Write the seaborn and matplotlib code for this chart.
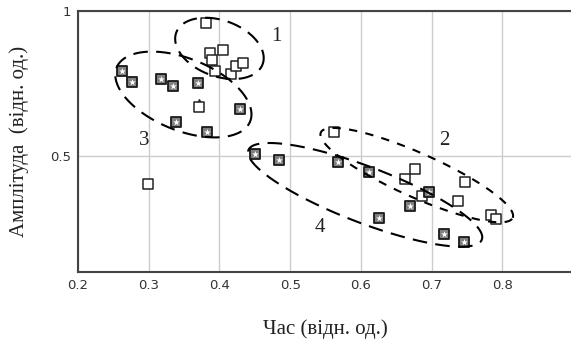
import numpy as np
import pandas as pd
import matplotlib
matplotlib.use("Agg")
import matplotlib.pyplot as plt
import seaborn as sns

sns.set_style("white")
plt.rcParams["font.family"] = ["DejaVu Sans"]

# ---- data ----
# hollow squares (groups 1, 2 and one outlier)
open_x = [0.381, 0.386, 0.390, 0.405, 0.394, 0.416, 0.424, 0.434,
          0.562, 0.676, 0.662, 0.687, 0.747, 0.737, 0.784, 0.791,
          0.299, 0.371]
open_y = [0.958, 0.854, 0.831, 0.866, 0.793, 0.782, 0.811, 0.820,
          0.584, 0.455, 0.422, 0.362, 0.409, 0.345, 0.297, 0.283,
          0.403, 0.668]
# hatched squares (groups 3 and 4)
hatch_x = [0.262, 0.276, 0.318, 0.334, 0.339, 0.370, 0.429, 0.382,
           0.450, 0.484, 0.568, 0.612, 0.696, 0.669, 0.626, 0.718, 0.746]
hatch_y = [0.794, 0.756, 0.764, 0.741, 0.618, 0.751, 0.661, 0.584,
           0.507, 0.486, 0.478, 0.446, 0.377, 0.328, 0.285, 0.230, 0.202]
# odd triangle-topped point
odd_x = [0.371]
odd_y = [0.683]

# cluster ellipses: centre (data), semi-axes (px), angle (deg)
ell_labels = ["1", "2", "3", "4"]
ell_cx = [0.400, 0.679, 0.349, 0.606]
ell_cy = [0.871, 0.434, 0.712, 0.366]
ell_a = [46, 105, 72, 125]
ell_b = [28, 22, 36, 28]
ell_ang = [-20, -24, -22, -21]
lab_x = [0.480, 0.718, 0.293, 0.542]
lab_y = [0.912, 0.555, 0.555, 0.252]

x_ticks = [0.2, 0.3, 0.4, 0.5, 0.6, 0.7, 0.8, 0.9]
y_ticks = [0.5, 1.0]

df_open = pd.DataFrame({"t": open_x, "a": open_y})
df_hatch = pd.DataFrame({"t": hatch_x, "a": hatch_y})
df_odd = pd.DataFrame({"t": odd_x, "a": odd_y})

fig = plt.figure(figsize=(5.71, 3.43), dpi=100)
ax = fig.add_axes([0.1366, 0.207, 0.867, 0.761])
ax.set_xlim(0.2, 0.9)
ax.set_ylim(0.1, 1.0)

sns.scatterplot(data=df_odd, x="t", y="a", ax=ax, marker="^", s=30,
                facecolor="white", edgecolor="#222222", linewidth=1.0, zorder=3)
sns.scatterplot(data=df_open, x="t", y="a", ax=ax, marker="s", s=48,
                facecolor="white", edgecolor="#222222", linewidth=1.1, zorder=4)
sns.scatterplot(data=df_hatch, x="t", y="a", ax=ax, marker="s", s=48,
                facecolor="#808080", edgecolor="#1a1a1a", linewidth=1.3, zorder=4)
sns.scatterplot(data=df_hatch, x="t", y="a", ax=ax, marker="*", s=26,
                color="white", linewidth=0, zorder=5)

# ellipses drawn in pixel-consistent space
fig.canvas.draw()
p0 = ax.transData.transform((0, 0))
sx = ax.transData.transform((1, 0))[0] - p0[0]
sy = ax.transData.transform((0, 1))[1] - p0[1]
t = np.linspace(0, 2 * np.pi, 300)
dashes = [(7, 4), (4, 4), (7, 4), (7, 4)]
for cx, cy, a, b, ang, ds in zip(ell_cx, ell_cy, ell_a, ell_b, ell_ang, dashes):
    th = np.radians(ang)
    ex = cx + (a * np.cos(t) * np.cos(th) - b * np.sin(t) * np.sin(th)) / sx
    ey = cy + (a * np.cos(t) * np.sin(th) + b * np.sin(t) * np.cos(th)) / sy
    ax.plot(ex, ey, color="black", lw=1.5, dashes=ds, zorder=6)

for lab, lx, ly in zip(ell_labels, lab_x, lab_y):
    ax.text(lx, ly, lab, ha="center", va="center", fontsize=15,
            family="Liberation Serif", color="#222222")

ax.set_xticks(x_ticks)
ax.set_xticklabels([f"{v:g}" for v in x_ticks[:-1]] + [""])
ax.set_yticks(y_ticks)
ax.set_yticklabels(["0.5", "1"])
ax.tick_params(length=0, labelsize=9.5, labelcolor="#333333", pad=5)
ax.grid(True, color="#cccccc", lw=1.0)
ax.set_axisbelow(True)
for side in ["top", "left", "bottom"]:
    ax.spines[side].set_color("#444444")
    ax.spines[side].set_linewidth(1.5)
ax.spines["right"].set_visible(False)

ax.set_xlabel("Час (відн. од.)", fontsize=15, family="Liberation Serif",
              color="#222222", labelpad=20)
ax.set_ylabel("Амплітуда  (відн. од.)", fontsize=15, family="Liberation Serif",
              color="#222222", labelpad=15)

fig.savefig("out.png", dpi=100)
